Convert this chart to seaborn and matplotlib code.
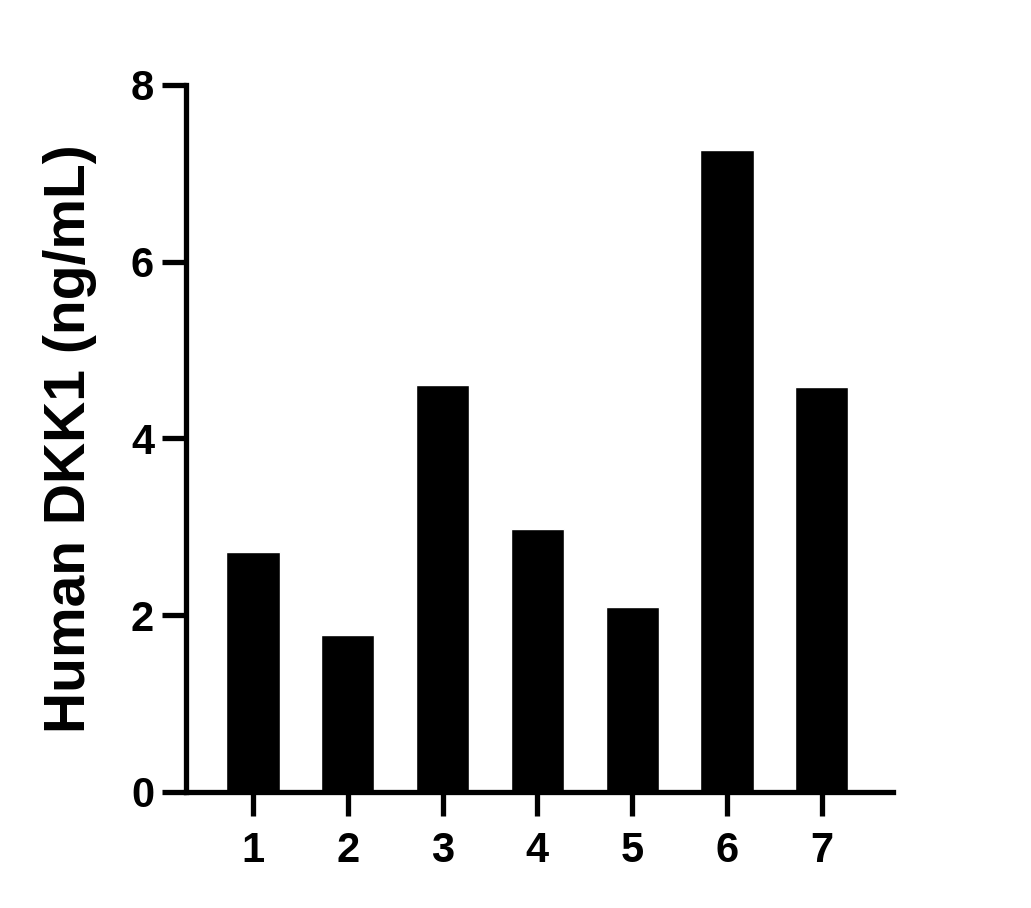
import matplotlib
matplotlib.use("Agg")
import matplotlib.pyplot as plt
import seaborn as sns
import pandas as pd

# data
samples = ["1", "2", "3", "4", "5", "6", "7"]
dkk1_ng_ml = [2.71, 1.78, 4.60, 2.98, 2.09, 7.26, 4.58]
y_ticks = [0, 2, 4, 6, 8]

df = pd.DataFrame({"sample": samples, "dkk1": dkk1_ng_ml})

sns.set_style("ticks")
plt.rcParams["font.family"] = ["Liberation Sans", "DejaVu Sans"]
plt.rcParams["font.weight"] = "bold"

fig = plt.figure(figsize=(10.31, 9.08), dpi=100)
ax = fig.add_axes([0.1804, 0.1278, 0.6856, 0.7786])

sns.barplot(data=df, x="sample", y="dkk1", color="black", width=0.56,
            saturation=1, ax=ax)

ax.set_xlim(-0.707, 6.75)
ax.set_ylim(0, 8)
ax.set_yticks(y_ticks)
ax.set_xlabel("")
ax.set_ylabel("Human DKK1 (ng/mL)", fontsize=41, fontweight="bold",
              color="black", labelpad=24)

for side in ["top", "right"]:
    ax.spines[side].set_visible(False)
for side in ["left", "bottom"]:
    ax.spines[side].set_linewidth(3.8)
    ax.spines[side].set_color("black")
    ax.spines[side].set_capstyle("projecting")

ax.tick_params(axis="both", which="major", length=17, width=3.8, direction="out",
               labelsize=30, colors="black")
ax.tick_params(axis="x", pad=11)
ax.tick_params(axis="y", pad=6)
for lbl in ax.get_xticklabels() + ax.get_yticklabels():
    lbl.set_fontweight("bold")

fig.savefig("out.png", dpi=100)
